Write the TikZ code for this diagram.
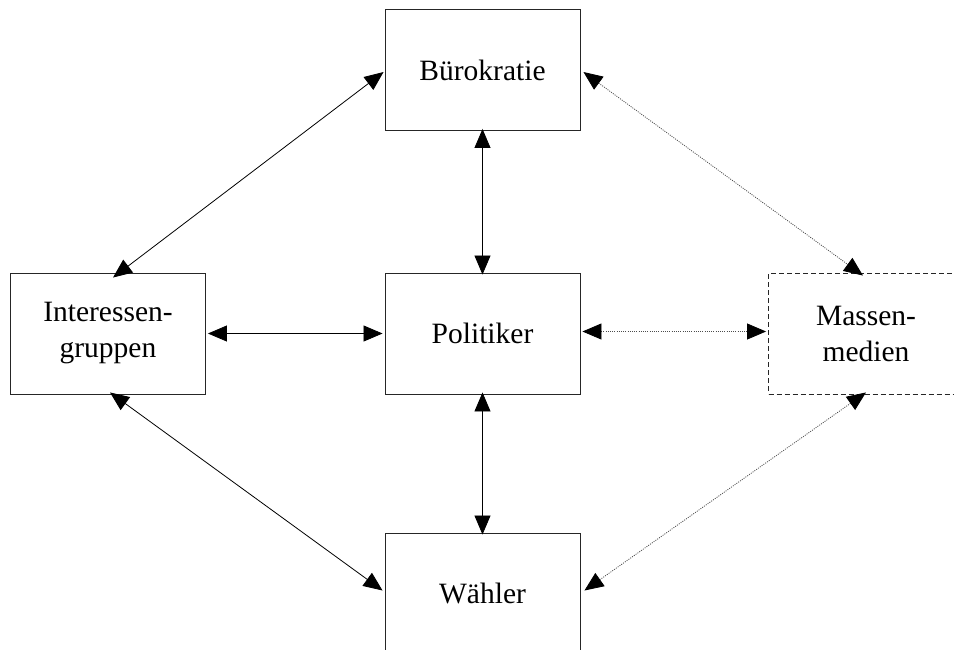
\documentclass[tikz,border=0pt]{standalone}
\usepackage{fontspec}
\setmainfont{Liberation Serif}
\usetikzlibrary{arrows.meta}
\begin{document}
\begin{tikzpicture}[x=1pt,y=-1pt,
  box/.style={draw=black!85,line width=0.9pt,minimum width=195pt,minimum height=121pt,inner sep=0pt,align=center,font=\fontsize{29.5}{36}\selectfont},
  dbox/.style={box,dashed,dash pattern=on 5pt off 3pt},
  tip/.tip={Triangle[length=19pt,width=16pt,color=black,fill=black]},
  link/.style={line width=0.8pt,tip-tip},
  dlink/.style={link,draw=black!70,dash pattern=on 1pt off 1.2pt}]
\useasboundingbox (0,0) rectangle (954,649);
\fill[white] (0,0) rectangle (954,649);
\node[box] (bur) at (482.5,70) {Bürokratie};
\node[box] (int) at (108,333.5) {Interessen-\\gruppen};
\node[box] (pol) at (482.5,333.5) {Politiker};
\node[dbox] (mas) at (866,333.5) {Massen-\\medien};
\node[box] (wah) at (482.5,593.5) {Wähler};
\draw[link] ([xshift=-1pt,yshift=-2pt]bur.west) -- ([xshift=5pt,yshift=-5pt]int.north);
\draw[link] ([yshift=2pt]bur.south) -- ([yshift=-2pt]pol.north);
\draw[link] ([xshift=2pt]int.east) -- ([xshift=-2pt]pol.west);
\draw[link] ([yshift=2pt]pol.south) -- ([yshift=-2pt]wah.north);
\draw[link] ([xshift=2pt,yshift=2pt]int.south) -- ([xshift=-2pt,yshift=3pt]wah.west);
\draw[dlink] ([xshift=3pt,yshift=-2pt]bur.east) -- ([xshift=-3pt,yshift=-3pt]mas.north);
\draw[dlink] ([xshift=2pt,yshift=2pt]pol.east) -- ([xshift=-2pt,yshift=2pt]mas.west);
\draw[dlink] ([xshift=0pt,yshift=2pt]mas.south) -- ([xshift=4pt,yshift=3pt]wah.east);
\end{tikzpicture}
\end{document}
